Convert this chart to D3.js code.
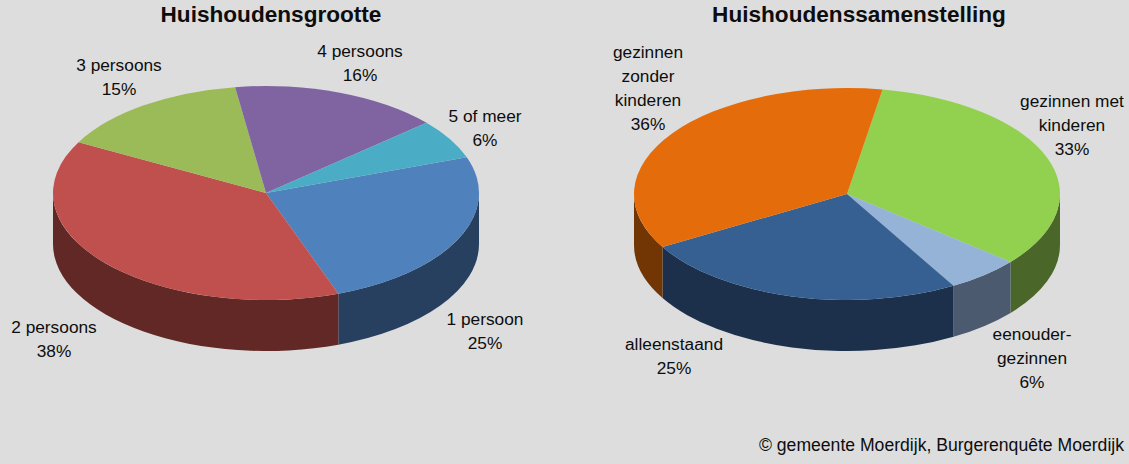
<!DOCTYPE html>
<html>
<head>
<meta charset="utf-8">
<script src="https://cdn.jsdelivr.net/npm/d3@7"></script>
<style>
  html, body { margin: 0; padding: 0; background: #dddddd; }
  svg { display: block; }
  text { font-family: "Liberation Sans", Arial, sans-serif; fill: #0d0d0d; }
</style>
</head>
<body>
<svg id="chart" width="1129" height="464"></svg>
<script>
// Huishoudensgrootte
const sizeLabels = [['1 persoon'], ['2 persoons'], ['3 persoons'], ['4 persoons'], ['5 of meer']]
const sizeValues = [24.9, 38.4, 14.8, 15.9, 6]
const sizeColors = ['#4f81bd', '#c0504d', '#9bbb59', '#8064a2', '#4bacc6']
const sizeSides = ['#27405f', '#612826', '#5d7035', '#4d3c61', '#2d6776']
const sizeLabelPos = [[485, 325], [54, 333], [119, 71], [360, 57], [485, 122]]

// Huishoudenssamenstelling
const compLabels = [['gezinnen met', 'kinderen'], ['eenouder-', 'gezinnen'], ['alleenstaand'], ['gezinnen', 'zonder', 'kinderen']]
const compValues = [33.4, 5.6, 25, 36]
const compColors = ['#92d050', '#95b3d7', '#366092', '#e46c0a']
const compSides = ['#4a6628', '#4b5a6e', '#1c304c', '#723605']
const compLabelPos = [[1072, 107], [1032, 340], [674, 350], [648, 58]]

const svg = d3.select('#chart')
const lineHeight = 24
const rad = (deg) => deg * Math.PI / 180

/**
 * Draws one tilted pie: the visible part of the side wall first, then the
 * squashed top surface and the labels.
 */
function drawPie (opts) {
  const { cx, cy, rx, ry, depth, startDeg, title, titleX, labels, values, colors, sides, labelPos } = opts

  const slices = d3.pie().sort(null).value((d) => d)
    .startAngle(rad(startDeg)).endAngle(rad(startDeg + 360))(values)

  const px = (a) => cx + rx * Math.sin(a)
  const py = (a) => cy - ry * Math.cos(a)

  // only the front half of the ellipse shows a wall
  const g = svg.append('g')
  g.selectAll('path.side')
    .data(slices.filter((d) => d.endAngle > rad(90) && d.startAngle < rad(270)))
    .join('path')
    .attr('class', 'side')
    .attr('fill', (d) => sides[d.index])
    .attr('d', (d) => {
      const a0 = Math.max(d.startAngle, rad(90))
      const a1 = Math.min(d.endAngle, rad(270))
      const arc = (x, y, sweep) => `A${rx},${ry} 0 0 ${sweep} ${x},${y}`
      return `M${px(a0)},${py(a0)}` + arc(px(a1), py(a1), 1) +
        `L${px(a1)},${py(a1) + depth}` + arc(px(a0), py(a0) + depth, 0) + 'Z'
    })

  const arc = d3.arc().innerRadius(0).outerRadius(rx)
  g.append('g')
    .attr('transform', `translate(${cx},${cy}) scale(1,${ry / rx})`)
    .selectAll('path')
    .data(slices)
    .join('path')
    .attr('d', arc)
    .attr('fill', (d) => colors[d.index])

  svg.append('text')
    .attr('x', titleX).attr('y', 22)
    .attr('text-anchor', 'middle')
    .attr('font-size', 22.6)
    .attr('font-weight', 'bold')
    .text(title)

  slices.forEach((d) => {
    const lines = labels[d.index].concat(Math.round(d.value) + '%')
    const [lx, ly] = labelPos[d.index]
    svg.append('text')
      .attr('text-anchor', 'middle')
      .attr('font-size', 17.3)
      .selectAll('tspan')
      .data(lines)
      .join('tspan')
      .attr('x', lx)
      .attr('y', (l, i) => ly + i * lineHeight)
      .text((l) => l)
  })
}

drawPie({
  cx: 266, cy: 193, rx: 213, ry: 107, depth: 51, startDeg: 70.5,
  title: 'Huishoudensgrootte', titleX: 271,
  labels: sizeLabels, values: sizeValues, colors: sizeColors, sides: sizeSides, labelPos: sizeLabelPos
})

drawPie({
  cx: 847, cy: 194, rx: 213, ry: 106, depth: 51, startDeg: 9.6,
  title: 'Huishoudenssamenstelling', titleX: 859,
  labels: compLabels, values: compValues, colors: compColors, sides: compSides, labelPos: compLabelPos
})

svg.append('text')
  .attr('x', 1124).attr('y', 451)
  .attr('text-anchor', 'end')
  .attr('font-size', 17.6)
  .text('© gemeente Moerdijk, Burgerenquête Moerdijk')
</script>
</body>
</html>
